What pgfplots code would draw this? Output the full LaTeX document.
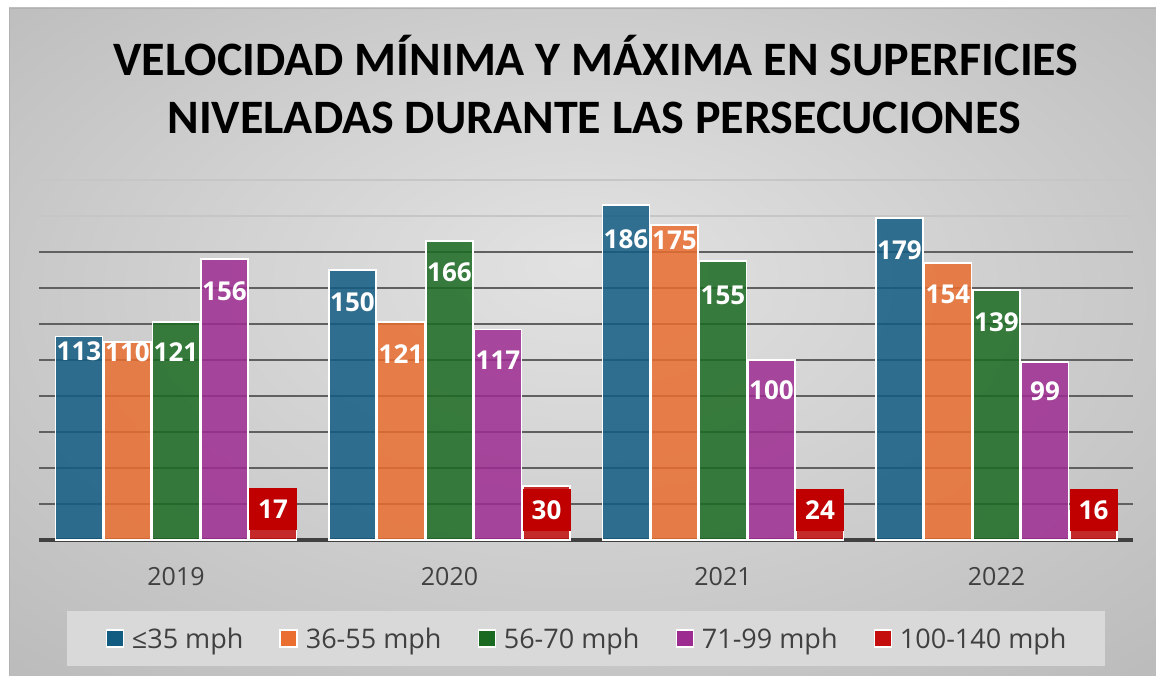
\documentclass[border=0pt]{standalone}
\usepackage{pgfplots}
\pgfplotsset{compat=1.18}
\usepackage{pgfplotstable}
\usepackage{fontspec}
\setmainfont{Open Sans}
\newfontfamily\titlefont{Carlito}
\definecolor{cBlue}{RGB}{18,92,130}
\definecolor{cOrange}{RGB}{233,110,48}
\definecolor{cGreen}{RGB}{27,106,34}
\definecolor{cPurple}{RGB}{157,44,145}
\definecolor{cRed}{RGB}{196,14,14}
\definecolor{labelRed}{RGB}{192,0,0}
\definecolor{txtGray}{RGB}{64,64,64}
\definecolor{gridGray}{RGB}{96,96,96}
\definecolor{legendBg}{RGB}{217,217,217}
\definecolor{bgIn}{RGB}{226,226,226}
\definecolor{bgMid}{RGB}{212,212,212}
\definecolor{bgOut}{RGB}{188,188,188}
\pgfdeclareradialshading{bgshade}{\pgfpoint{0bp}{6bp}}{color(0bp)=(bgIn); color(14bp)=(bgMid); color(36bp)=(bgOut); color(50bp)=(bgOut)}

\pgfplotstableread{
x a aoff b boff c coff d doff e eoff
0 113 15 110 10 121 30 156 32 17 0
1 150 32 121 32 166 31 117 31 30 24
2 186 34 175 15 155 34 100 30 24 13
3 179 32 154 32 139 32 99 29 16 -1
}\datatable

\pgfplotsset{
  sqlegend/.style={legend image code/.code={
      \draw[##1, draw=white, line width=1.2pt, fill opacity=1] (0pt,-8.5pt) rectangle (17pt,8.5pt);
      \path (25pt,0pt);}},
  barlab/.style={nodes near coords,
      nodes near coords style={font=\bfseries\fontsize{26}{30}\selectfont, text=white,
        /pgf/number format/assume math mode=true,
        text opacity=1, fill opacity=1, inner sep=0pt, anchor=center, yshift=-\off pt}},
}

\begin{document}
\begin{tikzpicture}
\useasboundingbox (0,0) rectangle (1156pt,675pt);
\fill[white] (0,0) rectangle (1156pt,675pt);
\shade[shading=bgshade] (9pt,0) rectangle (1156pt,667pt);
\draw[gray!60, line width=1pt] (9.5pt,0) -- (9.5pt,666.5pt) -- (1156pt,666.5pt);
\fill[legendBg] (67pt,9pt) rectangle (1105pt,64pt);
\node[anchor=base, font=\titlefont\bfseries\fontsize{48}{58}\selectfont] at (596pt,599pt) {VELOCIDAD MÍNIMA Y MÁXIMA EN SUPERFICIES};
\node[anchor=base, font=\titlefont\bfseries\fontsize{48}{58}\selectfont] at (594pt,541pt) {NIVELADAS DURANTE LAS PERSECUCIONES};
\begin{axis}[
  at={(39.25pt,135pt)}, anchor=south west,
  scale only axis, width=1094pt, height=360pt,
  xmin=-0.5, xmax=3.5, ymin=0, ymax=200,
  ybar=1.5pt, bar width=47pt,
  /pgf/number format/assume math mode=true,
  xtick={0,1,2,3}, xticklabels={2019,2020,2021,2022},
  ytick={0,20,...,160}, yticklabels={},
  extra y ticks={180,200}, extra y tick labels={},
  extra y tick style={grid style={color=gray!45, line width=2pt}},
  ymajorgrids, grid style={color=gridGray, line width=2pt},
  major tick length=0pt,
  separate axis lines, axis x line*=bottom, axis y line*=left,
  x axis line style={line width=3.5pt, color=txtGray, -},
  y axis line style={draw=none},
  xticklabel style={font=\fontsize{25}{30}\selectfont, text=txtGray, inner sep=0pt, anchor=north, yshift=-27pt},
  legend style={at={(0.4998,-0.2736)}, anchor=center, draw=none, fill=none,
    font=\fontsize{27}{32}\selectfont, text=txtGray,
    /tikz/every even column/.append style={column sep=36pt}, nodes={inner sep=0pt}},
  legend columns=5, legend cell align=left,
]
\addplot[draw=white, line width=1.5pt, fill=cBlue, fill opacity=0.85, sqlegend, barlab,
  visualization depends on={\thisrow{aoff} \as \off}] table[x=x, y=a] {\datatable};
\addlegendentry{≤35 mph}
\addplot[draw=white, line width=1.5pt, fill=cOrange, fill opacity=0.85, sqlegend, barlab,
  visualization depends on={\thisrow{boff} \as \off}] table[x=x, y=b] {\datatable};
\addlegendentry{36-55 mph}
\addplot[draw=white, line width=1.5pt, fill=cGreen, fill opacity=0.85, sqlegend, barlab,
  visualization depends on={\thisrow{coff} \as \off}] table[x=x, y=c] {\datatable};
\addlegendentry{56-70 mph}
\addplot[draw=white, line width=1.5pt, fill=cPurple, fill opacity=0.85, sqlegend, barlab,
  visualization depends on={\thisrow{doff} \as \off}] table[x=x, y=d] {\datatable};
\addlegendentry{71-99 mph}
\addplot[draw=white, line width=1.5pt, fill=cRed, fill opacity=0.85, sqlegend, barlab,
  visualization depends on={\thisrow{eoff} \as \off},
  every node near coord/.append style={fill=labelRed, minimum width=48pt, minimum height=42pt}] table[x=x, y=e] {\datatable};
\addlegendentry{100-140 mph}
\end{axis}
\end{tikzpicture}
\end{document}
